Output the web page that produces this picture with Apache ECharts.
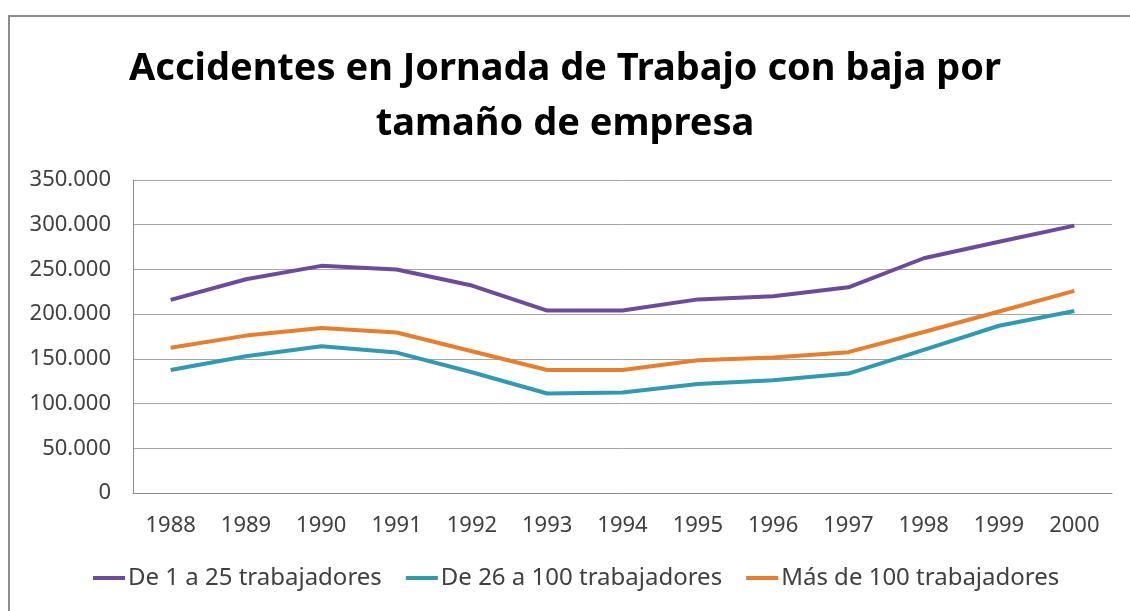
<!DOCTYPE html>
<html>
<head>
<meta charset="utf-8">
<script src="https://cdn.jsdelivr.net/npm/echarts@6/dist/echarts.min.js"></script>
<style>
    html, body { margin: 0; padding: 0; background: #fff; }
    #myChart { width: 1130px; height: 611px; }
</style>
</head>
<body>
<div id="myChart"></div>
<script>
// datos
var years = ['1988', '1989', '1990', '1991', '1992', '1993', '1994', '1995', '1996', '1997', '1998', '1999', '2000'];
var de1a25 = [216000, 239000, 254000, 250000, 232000, 204000, 204000, 216500, 220000, 230000, 262500, 281000, 299000];
var de26a100 = [137500, 153000, 164000, 157000, 135000, 111300, 112400, 122000, 126000, 133500, 160000, 187000, 203500];
var mas100 = [162500, 176000, 184500, 179500, 158500, 137500, 137500, 148500, 151500, 157500, 180000, 203000, 226000];
var seriesNames = ['De 1 a 25 trabajadores', 'De 26 a 100 trabajadores', 'Más de 100 trabajadores'];

var fontFam = 'Noto Sans';
var myChart = echarts.init(document.getElementById('myChart'));

var option = {
    backgroundColor: '#fff',
    animation: false,
    color: ['#6b4c9a', '#3199b0', '#e57e2e'],
    graphic: [
        {
            // borde del area del grafico
            type: 'rect',
            shape: { x: 9, y: 16, width: 1140, height: 620 },
            style: { fill: 'none', stroke: '#8c8c8c', lineWidth: 2 },
            silent: true
        }
    ],
    title: {
        text: 'Accidentes en Jornada de Trabajo con baja por\ntamaño de empresa',
        left: 'center',
        top: 37,
        textStyle: {
            fontFamily: fontFam,
            fontWeight: 'bold',
            fontSize: 38,
            lineHeight: 55,
            color: '#000'
        }
    },
    legend: {
        bottom: 16,
        left: 88,
        itemWidth: 32,
        itemHeight: 4,
        itemGap: 24,
        icon: 'rect',
        textStyle: { fontFamily: fontFam, fontSize: 24, color: '#404040', padding: [0, 0, 0, -2] },
        data: seriesNames
    },
    grid: {
        left: 133,
        right: 18,
        top: 180,
        bottom: 118
    },
    xAxis: {
        type: 'category',
        data: years,
        boundaryGap: true,
        axisTick: { show: false },
        axisLine: { lineStyle: { color: '#8c8c8c', width: 1 } },
        axisLabel: { fontFamily: fontFam, fontSize: 22, color: '#404040', margin: 22 }
    },
    yAxis: {
        type: 'value',
        min: 0,
        max: 350000,
        interval: 50000,
        axisLine: { show: true, lineStyle: { color: '#8c8c8c', width: 1 } },
        axisTick: { show: false },
        splitLine: { lineStyle: { color: '#a6a6a6', width: 1 } },
        axisLabel: {
            fontFamily: fontFam,
            fontSize: 22,
            color: '#404040',
            margin: 22,
            formatter: function (v) {
                return v === 0 ? '0' : (v / 1000).toFixed(0) + '.000';
            }
        }
    },
    series: [
        { name: seriesNames[0], type: 'line', data: de1a25, symbol: 'none', lineStyle: { width: 4 } },
        { name: seriesNames[1], type: 'line', data: de26a100, symbol: 'none', lineStyle: { width: 4 } },
        { name: seriesNames[2], type: 'line', data: mas100, symbol: 'none', lineStyle: { width: 4 } }
    ]
};

myChart.setOption(option);
</script>
</body>
</html>
